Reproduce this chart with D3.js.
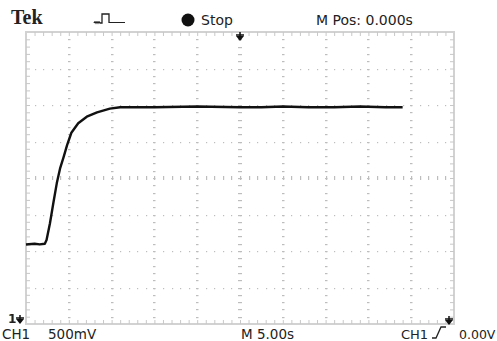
<!DOCTYPE html>
<html>
<head>
<meta charset="utf-8">
<script src="https://cdn.jsdelivr.net/npm/d3@7"></script>
<style>
  body { margin: 0; background: #fff; }
  svg { display: block; }
  text { font-family: "DejaVu Sans", sans-serif; fill: #222; }
</style>
</head>
<body>
<div id="scope"></div>
<script>

// -----------------------------------------------------------------------------
// Data (time in s, CH1 in V)
// -----------------------------------------------------------------------------

var traceTime = [-25, -24, -23.4, -22.8, -22.6, -22.2, -21.8, -21.4, -21.0, -20.6,
                 -20.2, -19.7, -18.9, -17.9, -16.7, -15.2, -14.0, -10, -5, 0,
                 2.5, 5, 8, 11, 14, 17, 19.0];
var traceVolts = [1.09, 1.10, 1.09, 1.10, 1.15, 1.38, 1.66, 1.93, 2.14, 2.29,
                  2.45, 2.62, 2.75, 2.84, 2.90, 2.95, 2.97, 2.97, 2.98, 2.97,
                  2.97, 2.98, 2.97, 2.97, 2.98, 2.97, 2.97];

var timeDomain = [-25, 25];   // 10 div x 5.00s
var voltDomain = [0, 4];      // 8 div x 500mV
var minorTime = d3.range(-25, 25.01, 1);
var minorVolt = d3.range(0, 4.001, 0.1);
var majorTime = d3.range(-20, 20.01, 5);
var majorVolt = d3.range(0.5, 3.51, 0.5);

// -----------------------------------------------------------------------------
// D3 Configurations
// -----------------------------------------------------------------------------

var W = 497, H = 341;
var plot = {left: 26, right: 454, top: 32, bottom: 324};

var xScale = d3.scaleLinear()
    .domain(timeDomain)
    .range([plot.left, plot.right]);

var yScale = d3.scaleLinear()
    .domain(voltDomain)
    .range([plot.bottom, plot.top]);

var svg = d3.select("#scope").append("svg")
    .attr("width", W)
    .attr("height", H);

var gridColor = "#bdbdbd";
var grid = svg.append("g").attr("class", "grid");

// dots along horizontal major lines
majorVolt.forEach(function(v) {
  if (v === 2) return;
  grid.selectAll(null)
      .data(minorTime.slice(1, -1))
    .enter().append("rect")
      .attr("x", function(d) { return Math.round(xScale(d)); })
      .attr("y", Math.round(yScale(v)))
      .attr("width", 1.2)
      .attr("height", 1.2)
      .attr("fill", gridColor);
});

// short dashes along vertical major lines
majorTime.forEach(function(t) {
  if (t === 0) return;
  grid.selectAll(null)
      .data(minorVolt.slice(1, -1))
    .enter().append("rect")
      .attr("x", Math.round(xScale(t)) - 1)
      .attr("y", function(d) { return Math.round(yScale(d)); })
      .attr("width", 2.5)
      .attr("height", 1.2)
      .attr("fill", gridColor);
});

// centre axes with tick marks
grid.selectAll(null)
    .data(minorTime.slice(1, -1))
  .enter().append("rect")
    .attr("x", function(d) { return Math.round(xScale(d)); })
    .attr("y", Math.round(yScale(2)) - 2)
    .attr("width", 1.2)
    .attr("height", 4)
    .attr("fill", gridColor);

grid.selectAll(null)
    .data(minorVolt.slice(1, -1))
  .enter().append("rect")
    .attr("x", Math.round(xScale(0)) - 2)
    .attr("y", function(d) { return Math.round(yScale(d)); })
    .attr("width", 4)
    .attr("height", 1.2)
    .attr("fill", gridColor);

// frame
svg.append("rect")
    .attr("x", plot.left)
    .attr("y", plot.top)
    .attr("width", plot.right - plot.left)
    .attr("height", plot.bottom - plot.top)
    .attr("fill", "none")
    .attr("stroke", "#d2d2d2")
    .attr("stroke-width", 2);

// frame ticks
var edge = svg.append("g").attr("stroke", "#c8c8c8").attr("stroke-width", 1);
edge.selectAll(null)
    .data(minorTime.slice(1, -1))
  .enter().append("line")
    .attr("x1", function(d) { return xScale(d) + 0.5; })
    .attr("x2", function(d) { return xScale(d) + 0.5; })
    .attr("y1", plot.top)
    .attr("y2", plot.top + 4);
edge.selectAll(null)
    .data(minorTime.slice(1, -1))
  .enter().append("line")
    .attr("x1", function(d) { return xScale(d) + 0.5; })
    .attr("x2", function(d) { return xScale(d) + 0.5; })
    .attr("y1", plot.bottom)
    .attr("y2", plot.bottom - 4);
edge.selectAll(null)
    .data(minorVolt.slice(1, -1))
  .enter().append("line")
    .attr("x1", plot.left)
    .attr("x2", plot.left + 4)
    .attr("y1", function(d) { return yScale(d) + 0.5; })
    .attr("y2", function(d) { return yScale(d) + 0.5; });
edge.selectAll(null)
    .data(minorVolt.slice(1, -1))
  .enter().append("line")
    .attr("x1", plot.right)
    .attr("x2", plot.right - 4)
    .attr("y1", function(d) { return yScale(d) + 0.5; })
    .attr("y2", function(d) { return yScale(d) + 0.5; });

// trace
var line = d3.line()
    .x(function(d, i) { return xScale(traceTime[i]); })
    .y(function(d) { return yScale(d); });

svg.append("path")
    .datum(traceVolts)
    .attr("d", line)
    .attr("fill", "none")
    .attr("stroke", "#111")
    .attr("stroke-width", 2.4)
    .attr("stroke-linejoin", "round");

// -----------------------------------------------------------------------------
// Markers & readouts
// -----------------------------------------------------------------------------

function downArrow(cx, top) {
  svg.append("path")
      .attr("d", "M" + cx + "," + top + "V" + (top + 7) +
                 "M" + (cx - 4) + "," + (top + 3) + "H" + (cx + 4))
      .attr("stroke", "#111")
      .attr("stroke-width", 1.5)
      .attr("fill", "none");
  svg.append("path")
      .attr("d", "M" + (cx - 4) + "," + (top + 4) + "L" + (cx + 4) + "," + (top + 4) +
                 "L" + cx + "," + (top + 9) + "Z")
      .attr("fill", "#111");
}

downArrow(xScale(0), 32);            // trigger position
downArrow(plot.right - 5, 316);      // trigger level
downArrow(20, 315);                  // ch1 ground

svg.append("text")
    .attr("x", 8).attr("y", 323)
    .style("font-size", "12px")
    .style("font-weight", "bold")
    .text("1");

svg.append("text")
    .attr("x", 11).attr("y", 24)
    .style("font-family", "'Liberation Serif', serif")
    .style("font-size", "20px")
    .style("font-weight", "bold")
    .text("Tek");

// acquisition icon
svg.append("path")
    .attr("d", "M94,23q1,-2 2,0q1,-2 2,0q1,-2 2,0H102V14H109V23")
    .attr("fill", "none")
    .attr("stroke", "#222")
    .attr("stroke-width", 1.3);
svg.append("path")
    .attr("d", "M109,23q1,-2 2,0q1,-2 2,0q1,-2 2,0q1,-2 2,0q1,-2 2,0q1,-2 2,0q1,-2 2,0q1,-2 2,0")
    .attr("fill", "none")
    .attr("stroke", "#222")
    .attr("stroke-width", 1);

svg.append("circle")
    .attr("cx", 188).attr("cy", 20).attr("r", 6.5)
    .attr("fill", "#111");

svg.append("text").attr("x", 201).attr("y", 25).style("font-size", "14px").text("Stop");
svg.append("text").attr("x", 316).attr("y", 25).style("font-size", "14px").text("M Pos: 0.000s");

svg.append("text").attr("x", 2).attr("y", 339).style("font-size", "13.5px").text("CH1");
svg.append("text").attr("x", 48).attr("y", 339).style("font-size", "13.5px").text("500mV");
svg.append("text").attr("x", 241).attr("y", 339).style("font-size", "13.5px").text("M 5.00s");
svg.append("text").attr("x", 401).attr("y", 339).style("font-size", "13px").text("CH1");

// rising-edge trigger icon
svg.append("path")
    .attr("d", "M432,338L436,338L441,327L446,327")
    .attr("fill", "none")
    .attr("stroke", "#222")
    .attr("stroke-width", 1.3);

svg.append("text").attr("x", 459).attr("y", 339).style("font-size", "12.5px").text("0.00V");

</script>
</body>
</html>
